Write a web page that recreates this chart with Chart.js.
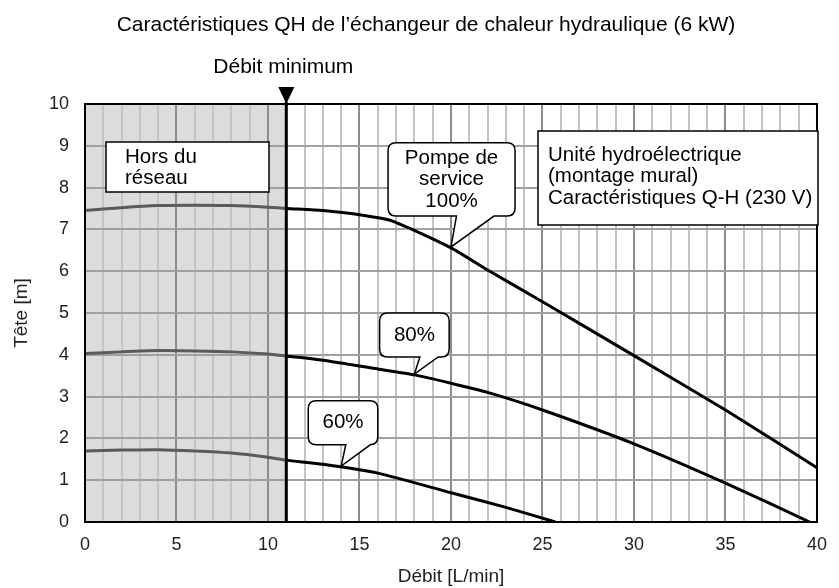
<!DOCTYPE html>
<html>
<head>
<meta charset="utf-8">
<script src="https://cdn.jsdelivr.net/npm/chart.js@4/dist/chart.umd.min.js"></script>
<style>
  html, body { margin: 0; padding: 0; background: #fff; }
  #wrap { width: 839px; height: 588px; }
</style>
</head>
<body>
<div id="wrap"><canvas id="qhChart" width="839" height="588"></canvas></div>
<script>
// --- data ---
const flow100 = [0, 2, 4, 6, 8, 10, 11, 13, 15, 16.8, 20, 22, 25, 30, 35, 40];
const head100 = [7.45, 7.52, 7.57, 7.58, 7.57, 7.53, 7.5, 7.45, 7.35, 7.2, 6.56, 6.03, 5.27, 3.98, 2.68, 1.3];

const flow80 = [0, 2, 4, 6, 8, 10, 11, 13, 16, 18, 20, 22, 25, 30, 35, 39.6];
const head80 = [4.03, 4.07, 4.1, 4.09, 4.07, 4.02, 3.97, 3.87, 3.66, 3.52, 3.32, 3.1, 2.68, 1.87, 0.93, 0];

const flow60 = [0, 2, 4, 6, 8, 10, 11, 13, 16, 20, 23, 25.7];
const head60 = [1.7, 1.72, 1.73, 1.7, 1.65, 1.55, 1.48, 1.38, 1.17, 0.7, 0.35, 0];

const xTicks = [0, 5, 10, 15, 20, 25, 30, 35, 40];
const yTicks = [0, 1, 2, 3, 4, 5, 6, 7, 8, 9, 10];
const minFlow = 11;

const FONT = "'Liberation Sans', Arial, sans-serif";

function pts(xs, ys) {
	return xs.map((x, i) => ({ x: x, y: ys[i] }));
}

function curve(xs, ys) {
	return {
		data: pts(xs, ys),
		borderWidth: 3,
		pointRadius: 0,
		tension: 0.2,
		segment: {
			borderColor: (ctx) => (ctx.p0.parsed.x < minFlow ? "#5a5a5a" : "#000"),
		},
		borderColor: "#000",
	};
}

// callout boxes: position in data units, text lines, tail tip in data units
const callouts = [
	{ x0: 16.56, x1: 23.5, y0: 7.32, y1: 9.07, lines: ["Pompe de", "service", "100%"], tip: [20.0, 6.58], tail: [20.3, 22.35] },
	{ x0: 16.1, x1: 19.9, y0: 3.95, y1: 5.0, lines: ["80%"], tip: [18.0, 3.54], tail: [18.3, 19.3] },
	{ x0: 12.2, x1: 16.0, y0: 1.85, y1: 2.9, lines: ["60%"], tip: [14.0, 1.34], tail: [14.25, 15.6] },
];

const decoPlugin = {
	id: "deco",
	beforeDraw(chart) {
		const { ctx, chartArea: a, scales } = chart;
		ctx.save();
		ctx.fillStyle = "#dcdcdc";
		const xr = scales.x.getPixelForValue(minFlow);
		ctx.fillRect(a.left, a.top, xr - a.left, a.bottom - a.top);
		ctx.restore();
	},
	afterDatasetsDraw(chart) {
		const { ctx, chartArea: a, scales } = chart;
		const X = (v) => scales.x.getPixelForValue(v);
		const Y = (v) => scales.y.getPixelForValue(v);
		ctx.save();

		// frame
		ctx.strokeStyle = "#000";
		ctx.lineWidth = 2;
		ctx.strokeRect(a.left, a.top, a.right - a.left, a.bottom - a.top);

		// minimum flow line + marker
		const xm = X(minFlow);
		ctx.lineWidth = 3;
		ctx.beginPath();
		ctx.moveTo(xm, a.top - 2);
		ctx.lineTo(xm, a.bottom);
		ctx.stroke();
		ctx.fillStyle = "#000";
		ctx.beginPath();
		ctx.moveTo(xm - 8, a.top - 17);
		ctx.lineTo(xm + 8, a.top - 17);
		ctx.lineTo(xm, a.top);
		ctx.closePath();
		ctx.fill();

		ctx.font = "21px " + FONT;
		ctx.fillStyle = "#000";
		ctx.textAlign = "center";
		ctx.textBaseline = "middle";
		ctx.fillText("Débit minimum", xm - 3, a.top - 37);

		// title
		ctx.fillText("Caractéristiques QH de l\u2019échangeur de chaleur hydraulique (6 kW)", 426, 25);

		// plain boxes
		ctx.font = "20.5px " + FONT;
		ctx.lineWidth = 1.5;
		ctx.fillStyle = "#fff";
		ctx.fillRect(106, 142, 163, 50);
		ctx.strokeRect(106, 142, 163, 50);
		ctx.fillRect(538, 131, 280, 94);
		ctx.strokeRect(538, 131, 280, 94);
		ctx.fillStyle = "#000";
		ctx.textAlign = "left";
		ctx.fillText("Hors du", 125, 157);
		ctx.fillText("réseau", 125, 178);
		ctx.fillText("Unité hydroélectrique", 548, 155);
		ctx.fillText("(montage mural)", 548, 176);
		ctx.fillText("Caractéristiques Q-H (230 V)", 548, 198);

		// callouts
		callouts.forEach((c) => {
			const l = X(c.x0), r = X(c.x1), t = Y(c.y1), b = Y(c.y0);
			const rad = 8;
			const ta = X(c.tail[0]), tb = X(c.tail[1]);
			ctx.beginPath();
			ctx.moveTo(l + rad, t);
			ctx.lineTo(r - rad, t);
			ctx.quadraticCurveTo(r, t, r, t + rad);
			ctx.lineTo(r, b - rad);
			ctx.quadraticCurveTo(r, b, r - rad, b);
			ctx.lineTo(tb, b);
			ctx.lineTo(X(c.tip[0]), Y(c.tip[1]));
			ctx.lineTo(ta, b);
			ctx.lineTo(l + rad, b);
			ctx.quadraticCurveTo(l, b, l, b - rad);
			ctx.lineTo(l, t + rad);
			ctx.quadraticCurveTo(l, t, l + rad, t);
			ctx.closePath();
			ctx.fillStyle = "#fff";
			ctx.fill();
			ctx.lineWidth = 1.5;
			ctx.strokeStyle = "#000";
			ctx.stroke();
			ctx.fillStyle = "#000";
			ctx.textAlign = "center";
			const cx = (l + r) / 2, cy = (t + b) / 2;
			const lh = 21.5;
			c.lines.forEach((s, i) => {
				ctx.fillText(s, cx, cy + (i - (c.lines.length - 1) / 2) * lh);
			});
		});
		ctx.restore();
	},
};

const config = {
	type: "line",
	data: {
		datasets: [curve(flow100, head100), curve(flow80, head80), curve(flow60, head60)],
	},
	options: {
		responsive: false,
		animation: false,
		layout: { padding: { top: 104, right: 15, left: 0, bottom: 0 } },
		plugins: { legend: { display: false }, tooltip: { enabled: false } },
		scales: {
			x: {
				type: "linear",
				min: 0,
				max: 40,
				afterFit: (s) => { s.height = 66; },
				afterBuildTicks: (s) => {
					s.ticks = Array.from({ length: 41 }, (_, i) => ({ value: i }));
				},
				ticks: {
					autoSkip: false,
					maxRotation: 0,
					padding: 12,
					color: "#222",
					font: { family: FONT, size: 18 },
					callback: (v) => (xTicks.includes(v) ? String(v) : ""),
				},
				grid: {
					drawTicks: false,
					lineWidth: 2,
					color: (ctx) => (ctx.tick && ctx.tick.value % 5 === 0 ? "#8c8c8c" : "#c4c4c4"),
				},
				border: { display: true, color: "#000", width: 2 },
				title: {
					display: true,
					text: "Débit [L/min]",
					color: "#222",
					font: { family: FONT, size: 19 },
					padding: { top: 4, bottom: 0 },
				},
			},
			y: {
				min: 0,
				max: 10,
				afterFit: (s) => { s.width = 85; },
				afterBuildTicks: (s) => {
					s.ticks = yTicks.map((v) => ({ value: v }));
				},
				ticks: {
					padding: 16,
					color: "#222",
					font: { family: FONT, size: 18 },
				},
				grid: { drawTicks: false, lineWidth: 2, color: "#a0a0a0" },
				border: { display: true, color: "#000", width: 2 },
				title: {
					display: true,
					text: "Tête [m]",
					color: "#222",
					font: { family: FONT, size: 19 },
					padding: { top: 10, bottom: 4 },
				},
			},
		},
	},
	plugins: [decoPlugin],
};

const qhChart = new Chart(document.getElementById("qhChart"), config);
</script>
</body>
</html>
